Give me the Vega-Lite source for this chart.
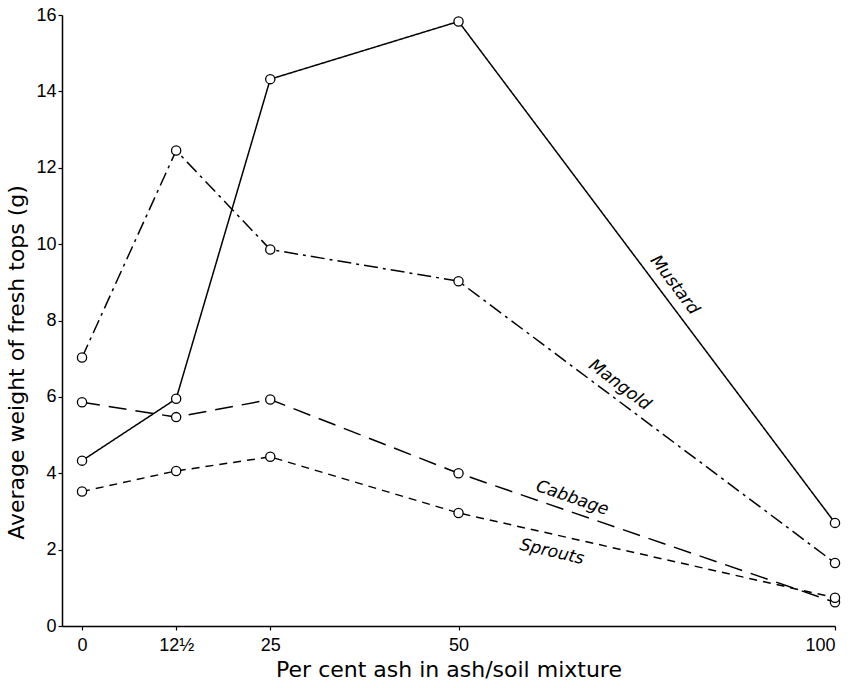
{
  "$schema": "https://vega.github.io/schema/vega-lite/v6.json",
  "width": 773,
  "height": 611,
  "autosize": {"type": "none"},
  "padding": {"left": 62, "top": 15, "right": 25, "bottom": 62},
  "background": "white",
  "config": {
    "view": {"stroke": null},
    "axis": {
      "grid": false,
      "domainColor": "black",
      "tickColor": "black",
      "labelColor": "black",
      "titleColor": "black",
      "labelFont": "Liberation Sans",
      "titleFont": "DejaVu Sans",
      "labelFontSize": 18,
      "titleFontSize": 22,
      "titleFontWeight": "normal",
      "domainWidth": 1.5,
      "tickWidth": 1.2
    }
  },
  "datasets": {
    "series": [
      {"crop": "Mustard", "ash": 0, "weight": 4.33},
      {"crop": "Mustard", "ash": 12.5, "weight": 5.95},
      {"crop": "Mustard", "ash": 25, "weight": 14.32},
      {"crop": "Mustard", "ash": 50, "weight": 15.83},
      {"crop": "Mustard", "ash": 100, "weight": 2.7},
      {"crop": "Mangold", "ash": 0, "weight": 7.03},
      {"crop": "Mangold", "ash": 12.5, "weight": 12.45},
      {"crop": "Mangold", "ash": 25, "weight": 9.86},
      {"crop": "Mangold", "ash": 50, "weight": 9.03},
      {"crop": "Mangold", "ash": 100, "weight": 1.65},
      {"crop": "Cabbage", "ash": 0, "weight": 5.86},
      {"crop": "Cabbage", "ash": 12.5, "weight": 5.47},
      {"crop": "Cabbage", "ash": 25, "weight": 5.93},
      {"crop": "Cabbage", "ash": 50, "weight": 4.0},
      {"crop": "Cabbage", "ash": 100, "weight": 0.62},
      {"crop": "Sprouts", "ash": 0, "weight": 3.52},
      {"crop": "Sprouts", "ash": 12.5, "weight": 4.06},
      {"crop": "Sprouts", "ash": 25, "weight": 4.43},
      {"crop": "Sprouts", "ash": 50, "weight": 2.96},
      {"crop": "Sprouts", "ash": 100, "weight": 0.74}
    ]
  },
  "layer": [
    {
      "data": {"name": "series"},
      "mark": {"type": "line", "color": "black", "strokeWidth": 1.5},
      "encoding": {
        "x": {
          "field": "ash", "type": "quantitative",
          "scale": {"domain": [-2.66, 100], "nice": false, "zero": false},
          "axis": {
            "values": [0, 12.5, 25, 50, 100],
            "labelExpr": "datum.value == 12.5 ? '12½' : datum.label",
            "title": "Per cent ash in ash/soil mixture",
            "tickSize": 4,
            "labelPadding": 6,
            "titlePadding": 5
          }
        },
        "y": {
          "field": "weight", "type": "quantitative",
          "scale": {"domain": [0, 16], "nice": false},
          "axis": {
            "values": [0, 2, 4, 6, 8, 10, 12, 14, 16],
            "title": "Average weight of fresh tops (g)",
            "tickSize": 4,
            "labelPadding": 2,
            "titlePadding": 7,
            "titleY": 347
          }
        },
        "strokeDash": {
          "field": "crop", "type": "nominal",
          "scale": {"domain": ["Mustard", "Mangold", "Cabbage", "Sprouts"], "range": [[1, 0], [14, 5, 3, 5], [18, 9], [8, 6]]},
          "legend": null
        }
      }
    },
    {
      "data": {"name": "series"},
      "mark": {"type": "point", "shape": "circle", "filled": true, "fill": "white", "stroke": "black", "strokeWidth": 1.3, "size": 85, "opacity": 1},
      "encoding": {
        "x": {"field": "ash", "type": "quantitative"},
        "y": {"field": "weight", "type": "quantitative"}
      }
    },
    {
      "data": {"values": [{"label": "Mustard", "ash": 78.7, "weight": 8.93}]},
      "mark": {"type": "text", "angle": 53, "font": "DejaVu Sans", "fontSize": 17, "fontStyle": "italic", "color": "black"},
      "encoding": {"x": {"field": "ash", "type": "quantitative"}, "y": {"field": "weight", "type": "quantitative"}, "text": {"field": "label"}}
    },
    {
      "data": {"values": [{"label": "Mangold", "ash": 71.4, "weight": 6.31}]},
      "mark": {"type": "text", "angle": 37, "font": "DejaVu Sans", "fontSize": 17, "fontStyle": "italic", "color": "black"},
      "encoding": {"x": {"field": "ash", "type": "quantitative"}, "y": {"field": "weight", "type": "quantitative"}, "text": {"field": "label"}}
    },
    {
      "data": {"values": [{"label": "Cabbage", "ash": 65.1, "weight": 3.35}]},
      "mark": {"type": "text", "angle": 19, "font": "DejaVu Sans", "fontSize": 17, "fontStyle": "italic", "color": "black"},
      "encoding": {"x": {"field": "ash", "type": "quantitative"}, "y": {"field": "weight", "type": "quantitative"}, "text": {"field": "label"}}
    },
    {
      "data": {"values": [{"label": "Sprouts", "ash": 62.4, "weight": 1.94}]},
      "mark": {"type": "text", "angle": 13, "font": "DejaVu Sans", "fontSize": 17, "fontStyle": "italic", "color": "black"},
      "encoding": {"x": {"field": "ash", "type": "quantitative"}, "y": {"field": "weight", "type": "quantitative"}, "text": {"field": "label"}}
    }
  ]
}
